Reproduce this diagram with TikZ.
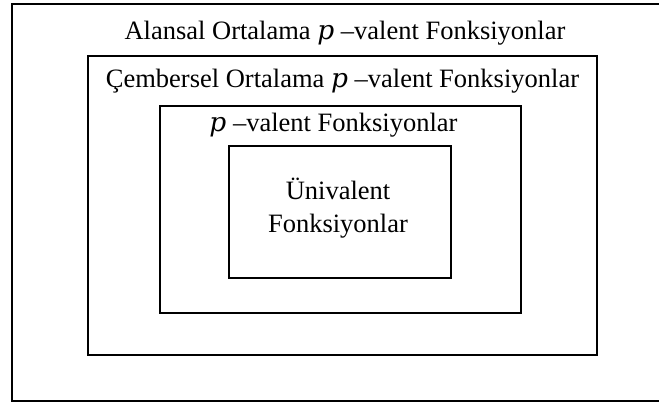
\documentclass[tikz,border=0pt]{standalone}
\usepackage{fontspec}
\setmainfont{Liberation Serif}
\newfontfamily\pfont{DejaVu Serif}
\newcommand{\pv}{{\pfont\itshape p}}
\begin{document}
\begin{tikzpicture}[x=1pt,y=-1pt,
  frame/.style={draw=black,line width=1.4pt},
  lbl/.style={anchor=base,inner sep=0pt,font=\fontsize{26.5}{31}\selectfont}]
\useasboundingbox (0,0) rectangle (659,403);
\path[fill=white] (0,0) rectangle (659,403);
% nested set boxes (the outermost one runs past the right edge)
\draw[frame] (663,4) -- (12,4) -- (12,401) -- (663,401);
\draw[frame] (88,56) rectangle (597,355);
\draw[frame] (160,106) rectangle (521,313);
\draw[frame] (229,146) rectangle (451,278);
% labels
\node[lbl] (t1) at (345,39.5) {Alansal Ortalama \pv{} –valent Fonksiyonlar};
\node[lbl] (t2) at (342.5,88) {Çembersel Ortalama \pv{} –valent Fonksiyonlar};
\node[lbl] (t3) at (333.5,132) {\pv{} –valent Fonksiyonlar};
\node[lbl] (t4) at (338,199.5) {Ünivalent};
\node[lbl] (t5) at (338,232.5) {Fonksiyonlar};
\end{tikzpicture}
\end{document}
